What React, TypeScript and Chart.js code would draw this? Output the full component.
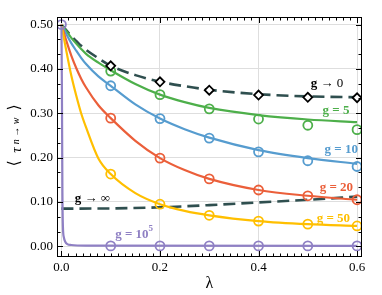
import React, { useEffect, useRef } from 'react';
import { Chart, registerables } from 'chart.js';
Chart.register(...registerables);

// ---- axes ----
const X_MIN = -0.009;
const X_MAX = 0.61;
const Y_MIN = -0.024;
const Y_MAX = 0.517;
const xTickValues = [0, 0.2, 0.4, 0.6];
const yTickValues = [0, 0.1, 0.2, 0.3, 0.4, 0.5];
const X_MINOR_STEP = 0.1 / 7;
const Y_MINOR_STEP = 0.1 / 3;

// ---- curves ----
const curveX = [0, 0.01, 0.02, 0.03, 0.04, 0.05, 0.075, 0.1, 0.15, 0.2, 0.25, 0.3, 0.4, 0.5, 0.6];
const g0Line = [0.5, 0.487, 0.474, 0.463, 0.452, 0.443, 0.424, 0.407, 0.386, 0.371, 0.361, 0.353, 0.343, 0.338, 0.336];
const g5Line = [0.5, 0.485, 0.47, 0.457, 0.445, 0.434, 0.414, 0.397, 0.366, 0.342, 0.325, 0.312, 0.296, 0.286, 0.28];
const g10Line = [0.5, 0.478, 0.458, 0.441, 0.425, 0.411, 0.383, 0.362, 0.32, 0.288, 0.264, 0.245, 0.217, 0.199, 0.186];
const g20Line = [0.5, 0.463, 0.43, 0.402, 0.378, 0.358, 0.318, 0.289, 0.238, 0.199, 0.172, 0.152, 0.127, 0.114, 0.105];
const g50Line = [0.5, 0.44, 0.385, 0.34, 0.3, 0.268, 0.198, 0.163, 0.12, 0.095, 0.08, 0.07, 0.057, 0.05, 0.046];

const gBigX = [0, 0.001, 0.002, 0.003, 0.005, 0.008, 0.012, 0.02, 0.05, 0.6];
const gBigLine = [0.5, 0.35, 0.12, 0.045, 0.02, 0.01, 0.005, 0.003, 0.0015, 0.001];

const gInfX = [0, 0.1, 0.2, 0.3, 0.4, 0.5, 0.6];
const gInfLine = [0.085, 0.0855, 0.088, 0.093, 0.099, 0.105, 0.112];

// ---- markers ----
const markerX = [0.1, 0.2, 0.3, 0.4, 0.5, 0.6];
const g0Markers = [0.407, 0.371, 0.352, 0.341, 0.336, 0.335];
const g5Markers = [0.395, 0.342, 0.31, 0.287, 0.273, 0.263];
const g10Markers = [0.362, 0.288, 0.244, 0.213, 0.193, 0.18];
const g20Markers = [0.289, 0.199, 0.152, 0.127, 0.114, 0.105];
const g50Markers = [0.163, 0.095, 0.07, 0.057, 0.05, 0.046];
const gBigMarkerX = [0, 0.1, 0.2, 0.3, 0.4, 0.5, 0.6];
const gBigMarkers = [0.5, 0.001, 0.001, 0.001, 0.001, 0.001, 0.001];

// ---- colours ----
const C_DARK = '#2f4f4f';
const C_G5 = '#4daf4a';
const C_G10 = '#569ccf';
const C_G20 = '#eb5f3a';
const C_G50 = '#ffbf00';
const C_BIG = '#8f80c4';

// ---- in-plot labels ----
const labelNames = ['g0', 'g5', 'g10', 'g20', 'g50', 'ginf', 'gbig'];
const labelX = [0.506, 0.53, 0.534, 0.524, 0.518, 0.027, 0.109];
const labelY = [0.366, 0.307, 0.217, 0.132, 0.062, 0.107, 0.026];
const labelColors = ['#000000', C_G5, C_G10, C_G20, C_G50, '#000000', C_BIG];
const labelParts: { t: string; bold: boolean; sup?: boolean }[][] = [
  [{ t: 'g', bold: true }, { t: ' \u2192 0', bold: false }],
  [{ t: 'g = 5', bold: true }],
  [{ t: 'g = 10', bold: true }],
  [{ t: 'g = 20', bold: true }],
  [{ t: 'g = 50', bold: true }],
  [{ t: 'g', bold: true }, { t: ' \u2192 \u221E', bold: false }],
  [{ t: 'g = 10', bold: true }, { t: '5', bold: true, sup: true }],
];

const SERIF = '"Liberation Serif", "DejaVu Serif", serif';

const pts = (xs: number[], ys: number[]) => xs.map((x, i) => ({ x, y: ys[i] }));

const framePlugin = {
  id: 'framePlugin',
  afterDraw(chart: any) {
    const { ctx, chartArea: a, scales } = chart;
    const xs = scales.x;
    const ys = scales.y;
    ctx.save();
    // labels
    labelNames.forEach((_, i) => {
      let px = xs.getPixelForValue(labelX[i]);
      const py = ys.getPixelForValue(labelY[i]);
      ctx.fillStyle = labelColors[i];
      ctx.textBaseline = 'middle';
      ctx.textAlign = 'left';
      labelParts[i].forEach((p) => {
        const size = p.sup ? 9 : 13;
        ctx.font = `${p.bold ? 'bold ' : ''}${size}px ${SERIF}`;
        ctx.fillText(p.t, px, p.sup ? py - 6 : py);
        px += ctx.measureText(p.t).width;
      });
    });
    // ticks (inward)
    ctx.strokeStyle = '#000';
    ctx.lineWidth = 1;
    ctx.beginPath();
    const startX = Math.ceil(X_MIN / X_MINOR_STEP);
    const endX = Math.floor(X_MAX / X_MINOR_STEP);
    for (let k = startX; k <= endX; k++) {
      const v = k * X_MINOR_STEP;
      const isMajor = xTickValues.some((t) => Math.abs(t - v) < 1e-6);
      const len = isMajor ? 6 : 3.5;
      const p = Math.round(xs.getPixelForValue(v)) + 0.5;
      ctx.moveTo(p, a.bottom);
      ctx.lineTo(p, a.bottom - len);
      ctx.moveTo(p, a.top);
      ctx.lineTo(p, a.top + len);
    }
    const startY = Math.ceil(Y_MIN / Y_MINOR_STEP);
    const endY = Math.floor(Y_MAX / Y_MINOR_STEP + 1e-6);
    for (let k = startY; k <= endY; k++) {
      const v = k * Y_MINOR_STEP;
      const isMajor = yTickValues.some((t) => Math.abs(t - v) < 1e-6);
      const len = isMajor ? 6 : 3.5;
      const p = Math.round(ys.getPixelForValue(v)) + 0.5;
      ctx.moveTo(a.left, p);
      ctx.lineTo(a.left + len, p);
      ctx.moveTo(a.right, p);
      ctx.lineTo(a.right - len, p);
    }
    ctx.stroke();
    // frame
    ctx.strokeRect(a.left + 0.5, a.top + 0.5, a.right - a.left - 1, a.bottom - a.top - 1);
    // x title
    ctx.fillStyle = '#000';
    ctx.font = `16px ${SERIF}`;
    ctx.textAlign = 'center';
    ctx.textBaseline = 'middle';
    ctx.fillText('\u03BB', (a.left + a.right) / 2, 284);
    // y title (rotated)
    const cy = (a.top + a.bottom) / 2;
    ctx.translate(14, cy);
    ctx.rotate(-Math.PI / 2);
    ctx.font = `16px ${SERIF}`;
    ctx.fillText('\u27E8', -26.5, 0.5);
    ctx.font = `italic 15px ${SERIF}`;
    ctx.fillText('\u03C4', -13, 3.5);
    ctx.font = `italic 10px ${SERIF}`;
    ctx.fillText('n \u2192 w', 6, 2);
    ctx.font = `16px ${SERIF}`;
    ctx.fillText('\u27E9', 29.5, 0.5);
    ctx.restore();
  },
};

export default function App() {
  const ref = useRef<HTMLCanvasElement | null>(null);
  useEffect(() => {
    document.body.style.margin = '0';
    const canvas = ref.current!;
    const lineDs = (label: string, data: any[], color: string, order: number, dash?: number[]) => ({
      label,
      data,
      showLine: true,
      borderColor: color,
      backgroundColor: color,
      borderWidth: dash ? 2.6 : 2.2,
      borderDash: dash || [],
      pointRadius: 0,
      cubicInterpolationMode: 'monotone',
      order,
    });
    const markDs = (label: string, data: any[], color: string, order: number, diamond = false) => ({
      label,
      data,
      showLine: false,
      pointStyle: diamond ? 'rectRot' : 'circle',
      pointRadius: 4.5,
      pointBorderWidth: 1.8,
      pointBorderColor: diamond ? '#000' : color,
      pointBackgroundColor: diamond ? '#fff' : 'rgba(0,0,0,0)',
      order,
    });
    const chart = new Chart(canvas, {
      type: 'scatter',
      data: {
        datasets: [
          lineDs('g→∞', pts(gInfX, gInfLine), C_DARK, 20, [12, 6]),
          lineDs('g→0', pts(curveX, g0Line), C_DARK, 19, [12, 6]),
          lineDs('g=5', pts(curveX, g5Line), C_G5, 18),
          lineDs('g=10', pts(curveX, g10Line), C_G10, 17),
          lineDs('g=20', pts(curveX, g20Line), C_G20, 16),
          lineDs('g=50', pts(curveX, g50Line), C_G50, 15),
          lineDs('g=1e5', pts(gBigX, gBigLine), C_BIG, 14),
          markDs('g=5 m', pts(markerX, g5Markers), C_G5, 10),
          markDs('g=10 m', pts(markerX, g10Markers), C_G10, 9),
          markDs('g=20 m', pts(markerX, g20Markers), C_G20, 8),
          markDs('g=50 m', pts(markerX, g50Markers), C_G50, 7),
          markDs('g=1e5 m', pts(gBigMarkerX, gBigMarkers), C_BIG, 6),
          markDs('g→0 m', pts(markerX, g0Markers), '#000', 5, true),
        ] as any,
      },
      options: {
        animation: false,
        responsive: false,
        maintainAspectRatio: false,
        layout: { padding: { top: 17, right: 20, left: 0, bottom: 0 } },
        plugins: { legend: { display: false }, tooltip: { enabled: false } },
        scales: {
          x: {
            type: 'linear',
            min: X_MIN,
            max: X_MAX,
            afterBuildTicks: (s: any) => {
              s.ticks = xTickValues.map((v) => ({ value: v }));
            },
            afterFit: (s: any) => {
              s.height = 38;
            },
            ticks: {
              callback: (v: any) => Number(v).toFixed(1),
              color: '#000',
              font: { family: SERIF, size: 13 },
              padding: 3,
              maxRotation: 0,
              autoSkip: false,
            },
            grid: { color: '#dedede', lineWidth: 1, drawTicks: false },
            border: { display: false },
          },
          y: {
            type: 'linear',
            min: Y_MIN,
            max: Y_MAX,
            afterBuildTicks: (s: any) => {
              s.ticks = yTickValues.map((v) => ({ value: v }));
            },
            afterFit: (s: any) => {
              s.width = 57;
            },
            ticks: {
              callback: (v: any) => Number(v).toFixed(2),
              color: '#000',
              font: { family: SERIF, size: 13 },
              padding: 4,
              autoSkip: false,
            },
            grid: { color: '#dedede', lineWidth: 1, drawTicks: false },
            border: { display: false },
          },
        },
      } as any,
      plugins: [framePlugin],
    });
    return () => chart.destroy();
  }, []);
  return <canvas ref={ref} width={382} height={295} style={{ display: 'block', width: 382, height: 295 }} />;
}
